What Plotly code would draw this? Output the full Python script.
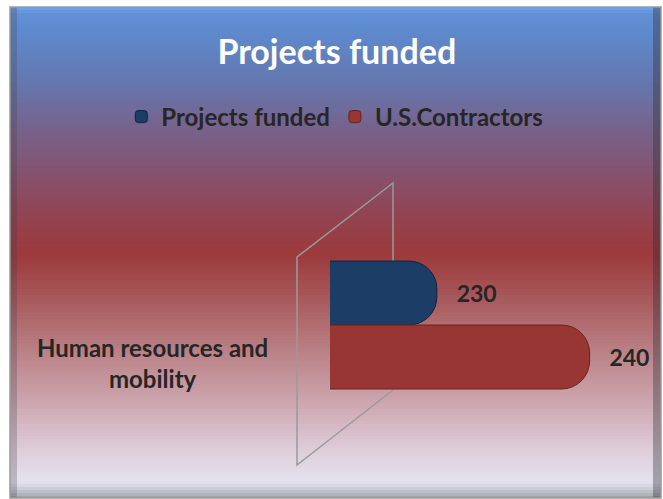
import textwrap
import plotly.graph_objects as go

W, H = 663, 499

categories = ["Human resources and mobility"]
series_names = ["Projects funded", "U.S.Contractors"]
projects_funded = [230]
us_contractors = [240]

colors = ["#1c3d66", "#983634"]
line_colors = ["#10243f", "#6a2220"]

def px(x):
    return x / W

def py(y):
    return 1 - y / H

fig = go.Figure()
nb = "\u00a0" * 3
for name, vals, c, lc in zip(series_names, [projects_funded, us_contractors], colors, line_colors):
    fig.add_trace(go.Bar(
        name=name, y=categories, x=vals, orientation="h",
        marker=dict(color=c, line=dict(color=lc, width=1), cornerradius=28),
        text=vals, texttemplate=nb + "%{x}", textposition="outside",
        textfont=dict(family="Lato", size=23, color="#262626", weight="bold"),
        cliponaxis=False, hoverinfo="skip",
    ))

# background gradient (frame)
stops = [(7, (0x6f, 0xa4, 0xe6)), (14, (0x62, 0x90, 0xd6)), (30, (0x5e, 0x8a, 0xce)),
         (80, (0x64, 0x78, 0xb0)), (130, (0x77, 0x62, 0x8a)), (180, (0x87, 0x50, 0x6a)),
         (230, (0x96, 0x3f, 0x48)), (255, (0x9c, 0x3a, 0x3c)), (300, (0xa8, 0x5a, 0x5c)),
         (350, (0xb9, 0x80, 0x85)), (400, (0xcc, 0xa4, 0xad)), (450, (0xdd, 0xcd, 0xd8)),
         (482, (0xe5, 0xe2, 0xef)), (490, (0xc8, 0xc8, 0xd4)), (498, (0xa0, 0xa0, 0xaa))]

def col_at(y):
    for (y0, c0), (y1, c1) in zip(stops[:-1], stops[1:]):
        if y0 <= y <= y1:
            t = (y - y0) / (y1 - y0) if y1 > y0 else 0
            return "rgb(%d,%d,%d)" % tuple(round(a + (b - a) * t) for a, b in zip(c0, c1))
    return "rgb(%d,%d,%d)" % stops[-1][1]

shapes = []
x0f, x1f, y0f, y1f = 10, 661, 7, 498
step = 3
y = y0f
while y < y1f:
    yn = min(y + step, y1f)
    shapes.append(dict(type="rect", xref="paper", yref="paper",
                       x0=px(x0f), x1=px(x1f), y0=py(yn), y1=py(y),
                       fillcolor=col_at(y + step / 2), line=dict(width=0), layer="below"))
    y = yn
# bevel side shading
shapes.append(dict(type="rect", xref="paper", yref="paper", x0=px(10), x1=px(17), y0=py(498), y1=py(7),
                   fillcolor="rgba(60,60,70,0.25)", line=dict(width=0), layer="below"))
shapes.append(dict(type="rect", xref="paper", yref="paper", x0=px(653), x1=px(661), y0=py(498), y1=py(7),
                   fillcolor="rgba(40,40,50,0.35)", line=dict(width=0), layer="below"))
shapes.append(dict(type="rect", xref="paper", yref="paper", x0=px(10), x1=px(661), y0=py(498), y1=py(7),
                   fillcolor="rgba(0,0,0,0)", line=dict(color="#9a9a9a", width=1.5), layer="below"))
# 3D axis wall outline
shapes.append(dict(type="path", xref="paper", yref="paper",
                   path="M %f %f L %f %f L %f %f L %f %f Z" % (px(297), py(257), px(393), py(183),
                                                          px(393), py(390), px(297), py(465)),
                   line=dict(color="#9a9a9a", width=1.5), fillcolor="rgba(0,0,0,0)", layer="below"))

cat_label = "<br>".join(textwrap.wrap(categories[0], 20))

fig.update_layout(
    width=W, height=H, margin=dict(l=0, r=0, t=0, b=0),
    paper_bgcolor="white", plot_bgcolor="rgba(0,0,0,0)",
    barmode="group", bargap=0.36, bargroupgap=0.0,
    shapes=shapes,
    title=dict(text="Projects funded", x=0.508, xanchor="center", y=py(52), yanchor="middle",
               font=dict(family="Lato", size=34, color="white", weight="bold")),
    legend=dict(orientation="h", x=0.505, xanchor="center", y=py(117), yanchor="middle",
                font=dict(family="Lato", size=24, color="#262626", weight="bold"),
                bgcolor="rgba(0,0,0,0)", itemwidth=30, traceorder="normal"),
    xaxis=dict(domain=[px(330), px(640)], range=[223, 243.3], visible=False),
    yaxis=dict(domain=[py(425), py(225)], autorange="reversed", visible=False),
    annotations=[dict(text=cat_label, xref="paper", yref="paper", x=px(152), y=py(363),
                      xanchor="center", yanchor="middle", align="center", showarrow=False,
                      font=dict(family="Lato", size=24, color="#262626", weight="bold"))],
    showlegend=True,
)

fig.write_html("out.html", config={"displayModeBar": False},
               post_script="document.body.style.margin='0';document.body.style.padding='0';")
